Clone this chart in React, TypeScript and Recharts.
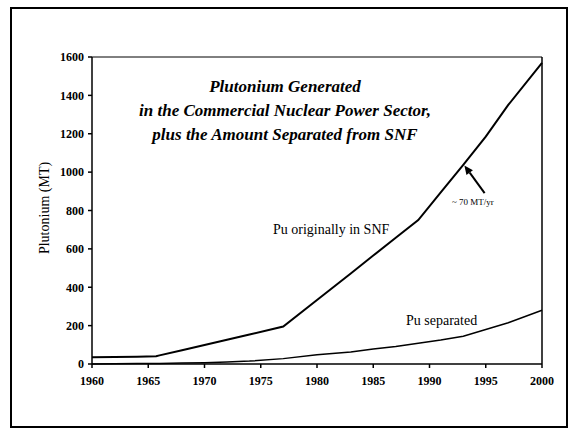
import { Line, LineChart, ReferenceLine, XAxis, YAxis } from "recharts";

const years = [1960, 1962, 1964, 1965.7, 1966, 1968, 1970, 1972, 1974, 1977, 1980, 1983, 1985, 1987, 1989, 1991, 1993, 1995, 1997, 2000];
const puInSnf = [35, 37, 38, 40, 45, 72, 99, 126, 154, 195, 334, 472, 565, 658, 750, 895, 1038, 1185, 1350, 1570];
const puSeparated = [0, 1, 2, 3, 3, 5, 7, 10, 15, 28, 48, 63, 78, 91, 108, 125, 145, 180, 215, 280];
const xTicks = [1960, 1965, 1970, 1975, 1980, 1985, 1990, 1995, 2000];
const yTicks = [0, 200, 400, 600, 800, 1000, 1200, 1400, 1600];
const titleLines = [
  "Plutonium Generated",
  "in the Commercial Nuclear Power Sector,",
  "plus the Amount Separated from SNF",
];

const data = years.map((year, i) => ({ year, snf: puInSnf[i], separated: puSeparated[i] }));

const serif = "Times New Roman, Liberation Serif, Times, serif";
const tickStyle = { fontSize: 12, fontWeight: 700, fill: "#000", fontFamily: serif };

// arrow pointing at the SNF curve, drawn in data coordinates
const Arrow = (props: any) => {
  const { x1, y1, x2, y2 } = props;
  const ang = Math.atan2(y2 - y1, x2 - x1);
  const len = 9;
  const w = 4;
  const bx = x2 - len * Math.cos(ang);
  const by = y2 - len * Math.sin(ang);
  const px = -Math.sin(ang) * w;
  const py = Math.cos(ang) * w;
  return (
    <g>
      <line x1={x1} y1={y1} x2={bx} y2={by} stroke="#000" strokeWidth={2} />
      <polygon points={`${x2},${y2} ${bx + px},${by + py} ${bx - px},${by - py}`} fill="#000" />
    </g>
  );
};

export default function App() {
  return (
    <div style={{ position: "absolute", left: 0, top: 0, width: 572, height: 428, background: "#fff" }}>
      <div
        style={{
          position: "absolute",
          left: 10,
          top: 7,
          width: 554,
          height: 417,
          border: "2px solid #000",
        }}
      />
      <div style={{ position: "absolute", left: 0, top: 0 }}>
        <LineChart width={572} height={428} data={data} margin={{ top: 57, right: 30, left: 32, bottom: 34 }}>
          <XAxis
            dataKey="year"
            type="number"
            domain={[1960, 2000]}
            ticks={xTicks}
            tick={tickStyle}
            tickSize={4}
            tickMargin={8}
            height={30}
            stroke="#000"
            strokeWidth={1.5}
          />
          <YAxis
            domain={[0, 1600]}
            ticks={yTicks}
            tick={tickStyle}
            tickSize={4}
            tickMargin={4}
            width={60}
            stroke="#000"
            strokeWidth={1.5}
          />
          <ReferenceLine y={1600} stroke="#000" strokeWidth={1} />
          <ReferenceLine x={2000} stroke="#000" strokeWidth={1.5} />
          <ReferenceLine
            segment={[
              { x: 1994.9, y: 891 },
              { x: 1993.1, y: 1035 },
            ]}
            shape={Arrow}
          />
          <Line dataKey="snf" stroke="#000" strokeWidth={2} dot={false} isAnimationActive={false} />
          <Line dataKey="separated" stroke="#000" strokeWidth={1.5} dot={false} isAnimationActive={false} />
        </LineChart>
      </div>
      <svg width={572} height={428} style={{ position: "absolute", left: 0, top: 0, pointerEvents: "none" }}>
        {titleLines.map((t, i) => (
          <text
            key={t}
            x={285}
            y={92 + i * 24}
            textAnchor="middle"
            fontFamily={serif}
            fontSize={17}
            fontWeight={700}
            fontStyle="italic"
          >
            {t}
          </text>
        ))}
        <text x={273} y={234} fontFamily={serif} fontSize={14}>
          Pu originally in SNF
        </text>
        <text x={406} y={325} fontFamily={serif} fontSize={14}>
          Pu separated
        </text>
        <text x={452} y={205} fontFamily={serif} fontSize={9}>
          ~ 70 MT/yr
        </text>
        <text
          x={0}
          y={0}
          transform="translate(49,208) rotate(-90)"
          textAnchor="middle"
          fontFamily={serif}
          fontSize={14}
        >
          Plutonium (MT)
        </text>
      </svg>
    </div>
  );
}
